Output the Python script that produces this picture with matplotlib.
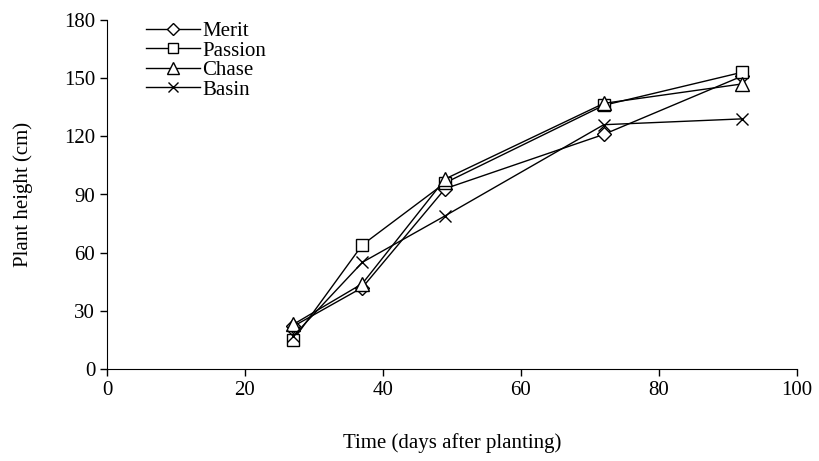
import matplotlib
matplotlib.use("Agg")
import matplotlib.pyplot as plt

plt.rcParams['font.family'] = ['Liberation Serif', 'DejaVu Serif']

days = [27, 37, 49, 72, 92]
merit = [22, 42, 93, 121, 151]
passion = [15, 64, 96, 136, 153]
chase = [23, 44, 98, 137, 147]
basin = [17, 55, 79, 126, 129]

series = [
    ("Merit", merit, "D", 7),
    ("Passion", passion, "s", 9),
    ("Chase", chase, "^", 10),
    ("Basin", basin, "x", 9),
]

fig = plt.figure(figsize=(8.2, 4.61), dpi=100)
ax = fig.add_axes([107 / 820, 1 - 369 / 461, 690 / 820, 349 / 461])

for name, vals, mk, ms in series:
    ax.plot(days, vals, color="black", lw=1.0, marker=mk, markersize=ms,
            markerfacecolor="white", markeredgecolor="black",
            markeredgewidth=1.0, label=name)

ax.set_xlim(0, 100)
ax.set_ylim(0, 180)
ax.set_xticks(range(0, 101, 20))
ax.set_yticks(range(0, 181, 30))
ax.spines['top'].set_visible(False)
ax.spines['right'].set_visible(False)
ax.tick_params(direction="out", length=5, labelsize=15, width=1)
ax.set_xlabel("Time (days after planting)", fontsize=15, labelpad=24)
ax.set_ylabel("Plant height (cm)", fontsize=15, labelpad=22)

leg = ax.legend(loc="upper left", bbox_to_anchor=(0.044, 1.02), frameon=False,
                fontsize=15, handlelength=2.6, handletextpad=0.1,
                labelspacing=0.0, borderaxespad=0, markerscale=0.85)

fig.savefig("out.png", dpi=100)
